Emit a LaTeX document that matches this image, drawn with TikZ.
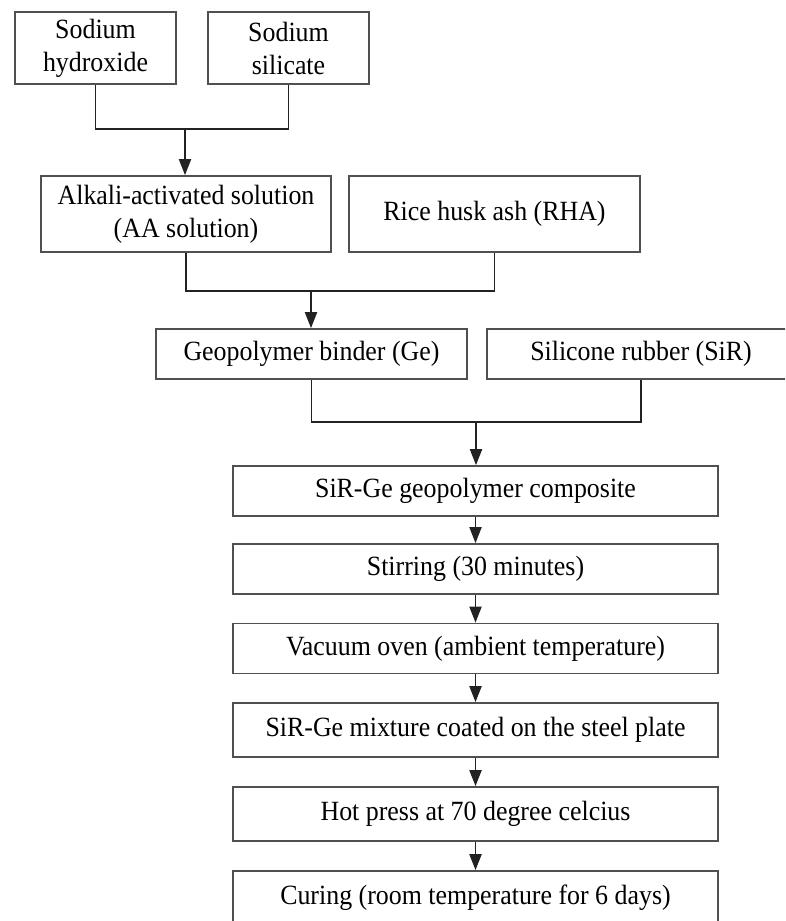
\documentclass[tikz,border=0pt]{standalone}
\usepackage{fontspec}
\setmainfont{Liberation Serif}[FakeStretch=0.93]
\usetikzlibrary{arrows.meta}
\definecolor{boxline}{HTML}{505050}
\definecolor{flowline}{HTML}{222222}

\begin{document}
\begin{tikzpicture}[x=0.025cm,y=-0.025cm,
    stage/.style={draw=boxline,line width=1.2pt,fill=white,inner sep=0pt,align=center,
      font=\fontsize{19.8}{23.5}\selectfont},
    raw/.style={stage,minimum width=4.025cm,minimum height=1.8cm},
    proc/.style={stage,minimum width=12.125cm,minimum height=1.25cm},
    link/.style={draw=flowline,line width=1.4pt},
    feed/.style={link,-{Triangle[length=0.4cm,width=0.3cm]}}]
\clip (0,0) rectangle (785,921);

\node[raw] (hyd) at (95.5,48){Sodium\\hydroxide};
\node[raw] (sil) at (288.5,48){Sodium\\silicate};
\node[stage,minimum width=7.25cm,minimum height=1.9cm] (aa) at (186,214){Alkali-activated solution\\(AA solution)};
\node[stage,minimum width=7.275cm,minimum height=1.9cm] (rha) at (494.5,214){Rice husk ash (RHA)};
\node[stage,minimum width=7.775cm,minimum height=1.25cm] (ge) at (311.5,354){Geopolymer binder (Ge)};
\node[stage,minimum width=7.7cm,minimum height=1.25cm] (sir) at (641,354){Silicone rubber (SiR)};

\node[proc] (comp) at (475.5,491){SiR-Ge geopolymer composite};
\node[proc] (stir) at (475.5,569){Stirring (30 minutes)};
\node[proc] (vac) at (475.5,648.5){Vacuum oven (ambient temperature)};
\node[proc,minimum height=1.35cm] (coat) at (475.5,730){SiR-Ge mixture coated on the steel plate};
\node[proc,minimum height=1.35cm] (hot) at (475.5,814){Hot press at 70 degree celcius};
\node[proc,minimum height=1.35cm] (cur) at (475.5,898){Curing (room temperature for 6 days)};

% mixing joins
\coordinate (j1) at (185,129);
\draw[link] (hyd.south) |- (j1) -| (sil.south);
\draw[feed] (j1) -- (j1 |- aa.north);

\coordinate (j2) at (311,291);
\draw[link] (aa.south) |- (j2) -| (rha.south);
\draw[feed] (j2) -- (j2 |- ge.north);

\coordinate (j3) at (476,422);
\draw[link] (ge.south) |- (j3) -| (sir.south);
\draw[feed] (j3) -- (j3 |- comp.north);

% process chain
\foreach \a/\b in {comp/stir,stir/vac,vac/coat,coat/hot,hot/cur}
  \draw[feed] (\a) -- (\b);
\end{tikzpicture}
\end{document}
